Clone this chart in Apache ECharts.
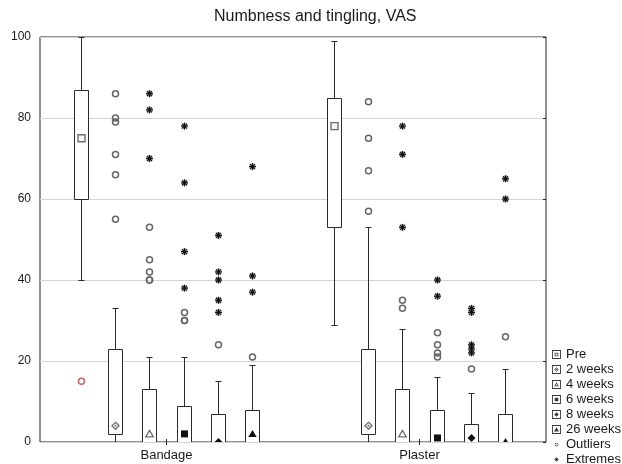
<!DOCTYPE html>
<html>
<head>
<meta charset="utf-8">
<script src="https://cdn.jsdelivr.net/npm/echarts@6/dist/echarts.min.js"></script>
<style>html,body{margin:0;padding:0;background:#fff;}#main{width:622px;height:464px;}</style>
</head>
<body>
<div id="main"></div>
<script>
// ---- data ----
const categories = ['Bandage', 'Plaster'];
const timepoints = ['Pre', '2 weeks', '4 weeks', '6 weeks', '8 weeks', '26 weeks'];
const yTicks = [0, 20, 40, 60, 80, 100];

const bandageMin    = [40, 0, 0, 0, 0, 0];
const bandageQ1     = [60, 2, 0, 0, 0, 0];
const bandageMedian = [75, 4, 2, 2, 0, 2];
const bandageQ3     = [87, 23, 13, 9, 7, 8];
const bandageMax    = [100, 33, 21, 21, 15, 19];

const plasterMin    = [29, 0, 0, 0, 0, 0];
const plasterQ1     = [53, 2, 0, 0, 0, 0];
const plasterMedian = [78, 4, 2, 1, 1, 0];
const plasterQ3     = [85, 23, 13, 8, 4.5, 7];
const plasterMax    = [99, 53, 28, 16, 12, 18];

const bandageOutliers = [[15], [86, 80, 79, 71, 66, 55], [53, 45, 42, 40, 40], [32, 30, 30], [24], [21]];
const bandageExtremes = [[], [], [86, 82, 70], [78, 64, 47, 38], [51, 42, 40, 35, 32], [68, 41, 37]];
const plasterOutliers = [[], [84, 75, 67, 57], [35, 33], [27, 24, 22, 21], [18], [26]];
const plasterExtremes = [[], [], [78, 71, 53], [40, 36], [33, 32, 24, 23, 22], [65, 60]];

// ---- build ----
const FONT = 'Liberation Sans, Arial, sans-serif';
const statsByCat = [
  [bandageMin, bandageQ1, bandageMedian, bandageQ3, bandageMax],
  [plasterMin, plasterQ1, plasterMedian, plasterQ3, plasterMax]
];
const outByCat = [bandageOutliers, plasterOutliers];
const extByCat = [bandageExtremes, plasterExtremes];

const SPACING = 0.1344, BOXW = 0.0553;
function xPos(api, ci, k) {
  const bw = api.size([1, 0])[0];
  return Math.round(api.coord([ci, 0])[0] + (k - 2.5) * bw * SPACING) + 0.5;
}

function marker(k, cx, cy) {
  const grey = '#6e6e6e', dark = '#111';
  switch (k) {
    case 0: return {type: 'rect', shape: {x: cx - 3.5, y: cy - 3.5, width: 7, height: 7}, style: {fill: '#f4f4f4', stroke: grey, lineWidth: 1.4}};
    case 1: return {type: 'group', children: [
      {type: 'polygon', shape: {points: [[cx, cy - 3.5], [cx + 3.5, cy], [cx, cy + 3.5], [cx - 3.5, cy]]}, style: {fill: '#fff', stroke: grey, lineWidth: 1.3}},
      {type: 'circle', shape: {cx: cx, cy: cy, r: 1}, style: {fill: grey}}]};
    case 2: return {type: 'polygon', shape: {points: [[cx, cy - 3.5], [cx + 3.8, cy + 3], [cx - 3.8, cy + 3]]}, style: {fill: '#fff', stroke: grey, lineWidth: 1.3}};
    case 3: return {type: 'rect', shape: {x: cx - 3.5, y: cy - 3.5, width: 7, height: 7}, style: {fill: dark}};
    case 4: return {type: 'polygon', shape: {points: [[cx, cy - 4], [cx + 4, cy], [cx, cy + 4], [cx - 4, cy]]}, style: {fill: dark}};
    default: return {type: 'polygon', shape: {points: [[cx, cy - 4], [cx + 4.2, cy + 3], [cx - 4.2, cy + 3]]}, style: {fill: dark}};
  }
}

function boxRenderer(k) {
  return function (params, api) {
    const ci = api.value(0);
    const bw = api.size([1, 0])[0];
    const cx = xPos(api, ci, k);
    const half = Math.round(bw * BOXW / 2);
    const yy = v => Math.round(api.coord([ci, v])[1]) + 0.5;
    const yMin = yy(api.value(1)), yQ1 = yy(api.value(2)), yQ3 = yy(api.value(4)), yMax = yy(api.value(5));
    const yMed = api.coord([ci, api.value(3)])[1];
    const ls = {stroke: '#2b2b2b', lineWidth: 1};
    const cap = 3;
    return {type: 'group', children: [
      {type: 'line', shape: {x1: cx, y1: yMax, x2: cx, y2: yQ3}, style: ls},
      {type: 'line', shape: {x1: cx, y1: yQ1, x2: cx, y2: yMin}, style: ls},
      {type: 'line', shape: {x1: cx - cap, y1: yMax, x2: cx + cap, y2: yMax}, style: ls},
      {type: 'line', shape: {x1: cx - cap, y1: yMin, x2: cx + cap, y2: yMin}, style: ls},
      {type: 'rect', shape: {x: cx - half, y: yQ3, width: half * 2, height: yQ1 - yQ3}, style: {fill: '#fff', stroke: '#2b2b2b', lineWidth: 1}},
      marker(k, cx, yMed)
    ]};
  };
}

function outlierRenderer(params, api) {
  const ci = api.value(0), k = api.value(1);
  const cx = xPos(api, ci, k);
  const cy = api.coord([ci, api.value(2)])[1];
  return {type: 'circle', shape: {cx: cx, cy: cy, r: 3}, style: {fill: null, stroke: k === 0 ? '#c0646e' : '#666', lineWidth: 1.5}};
}

function extremeRenderer(params, api) {
  const ci = api.value(0), k = api.value(1);
  const cx = xPos(api, ci, k);
  const cy = api.coord([ci, api.value(2)])[1];
  const ch = [{type: 'circle', shape: {cx: cx, cy: cy, r: 3.4}, style: {fill: 'rgba(90,90,90,0.35)'}}];
  for (let a = 0; a < 4; a++) {
    const t = a * Math.PI / 4, r = 3.5;
    ch.push({type: 'line', shape: {x1: cx - r * Math.cos(t), y1: cy - r * Math.sin(t), x2: cx + r * Math.cos(t), y2: cy + r * Math.sin(t)}, style: {stroke: '#111', lineWidth: 1.2}});
  }
  return {type: 'group', children: ch};
}

const series = timepoints.map((name, k) => ({
  name: name,
  type: 'custom',
  clip: true,
  renderItem: boxRenderer(k),
  encode: {x: 0, y: [1, 2, 3, 4, 5]},
  data: categories.map((c, ci) => [ci].concat(statsByCat[ci].map(arr => arr[k])))
}));

const outData = [], extData = [];
categories.forEach((c, ci) => {
  timepoints.forEach((t, k) => {
    outByCat[ci][k].forEach(v => outData.push([ci, k, v]));
    extByCat[ci][k].forEach(v => extData.push([ci, k, v]));
  });
});
series.push({name: 'Outliers', type: 'custom', clip: true, renderItem: outlierRenderer, encode: {x: 0, y: 2}, data: outData});
series.push({name: 'Extremes', type: 'custom', clip: true, renderItem: extremeRenderer, encode: {x: 0, y: 2}, data: extData});

// legend icons
const BBOX = 'M0,0L0.01,0Z M20,20L19.99,20Z ';
const FRAME = 'M0,0H20V20H0Z M2,2V18H18V2Z ';
function poly(cx, cy, r, n, ccw) {
  let s = '';
  for (let i = 0; i < n; i++) {
    const a = (ccw ? -1 : 1) * i * 2 * Math.PI / n;
    s += (i ? 'L' : 'M') + (cx + r * Math.cos(a)).toFixed(2) + ',' + (cy + r * Math.sin(a)).toFixed(2);
  }
  return s + 'Z ';
}
function star(cx, cy, R, r) {
  let s = '';
  for (let i = 0; i < 16; i++) {
    const a = i * Math.PI / 8 - Math.PI / 2;
    const rr = i % 2 ? r : R;
    s += (i ? 'L' : 'M') + (cx + rr * Math.cos(a)).toFixed(2) + ',' + (cy + rr * Math.sin(a)).toFixed(2);
  }
  return s + 'Z ';
}
const icons = [
  FRAME + 'M6,6H14V14H6Z M7.8,7.8V12.2H12.2V7.8Z',
  FRAME + 'M10,5L15,10L10,15L5,10Z M10,7.2L7.2,10L10,12.8L12.8,10Z ' + poly(10, 10, 1, 8, false),
  FRAME + 'M10,5L15,14H5Z M10,8.2L7.7,12.4H12.3Z',
  FRAME + 'M6,6H14V14H6Z',
  FRAME + 'M10,5L15,10L10,15L5,10Z',
  FRAME + 'M10,5L15.5,14.5H4.5Z',
  BBOX + poly(10, 10, 4.2, 20, false) + poly(10, 10, 2.4, 20, true),
  BBOX + star(10, 10, 6.5, 2.6)
];
const legendNames = timepoints.concat(['Outliers', 'Extremes']);

const chart = echarts.init(document.getElementById('main'), null, {renderer: 'canvas'});
chart.setOption({
  animation: false,
  backgroundColor: '#fff',
  title: {
    text: 'Numbness and tingling, VAS',
    left: 214, top: 9, padding: 0,
    textStyle: {fontFamily: FONT, fontSize: 16, fontWeight: 'normal', color: '#1a1a1a'}
  },
  legend: {
    orient: 'vertical', left: 552, top: 348, height: 140, padding: 0,
    itemWidth: 9, itemHeight: 9, itemGap: 2,
    selectedMode: false,
    textStyle: {fontFamily: FONT, fontSize: 13, color: '#1a1a1a'},
    itemStyle: {color: '#3a3a3a', borderWidth: 0},
    data: legendNames.map((n, i) => ({name: n, icon: 'path://' + icons[i], itemStyle: {color: i === 6 ? '#666' : '#3a3a3a', borderWidth: 0}}))
  },
  grid: {left: 40, right: 76, top: 37, bottom: 22, show: true, borderColor: '#222', borderWidth: 1, backgroundColor: 'transparent'},
  xAxis: [
    {type: 'category', data: categories, position: 'bottom',
     axisLine: {show: false},
     axisTick: {show: true, alignWithLabel: true, inside: true, length: 3, lineStyle: {color: '#222'}},
     axisLabel: {fontFamily: FONT, fontSize: 13, color: '#1a1a1a', margin: 7},
     splitLine: {show: false}},
    {type: 'category', data: categories, position: 'top',
     axisLine: {show: false},
     axisTick: {show: true, alignWithLabel: true, inside: true, length: 3, lineStyle: {color: '#222'}},
     axisLabel: {show: false}, splitLine: {show: false}}
  ],
  yAxis: [
    {type: 'value', min: yTicks[0], max: yTicks[yTicks.length - 1], interval: yTicks[1] - yTicks[0], position: 'left',
     axisLine: {show: false}, axisTick: {show: false},
     axisLabel: {fontFamily: FONT, fontSize: 12, color: '#1a1a1a', margin: 9},
     splitLine: {show: true, lineStyle: {color: '#d4d4d4', width: 1}}},
    {type: 'value', min: yTicks[0], max: yTicks[yTicks.length - 1], interval: yTicks[1] - yTicks[0], position: 'right',
     axisLine: {show: false},
     axisTick: {show: true, inside: true, length: 3, lineStyle: {color: '#222'}},
     axisLabel: {show: false}, splitLine: {show: false}}
  ],
  series: series
});
</script>
</body>
</html>
